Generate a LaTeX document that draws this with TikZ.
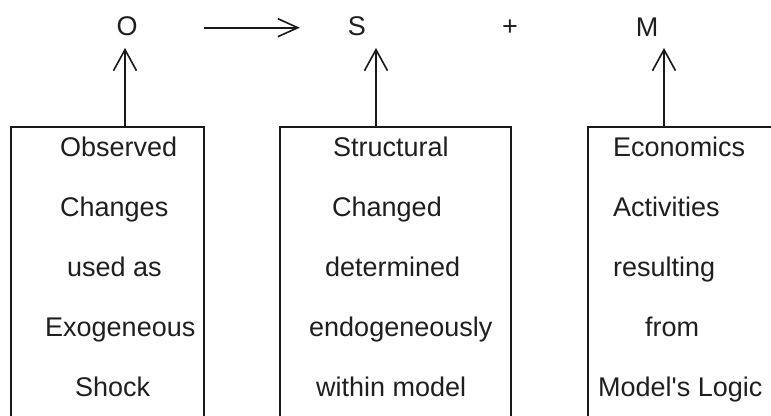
\documentclass[tikz,border=0pt]{standalone}
\usepackage{fontspec}
\setmainfont{Liberation Sans}
\usetikzlibrary{arrows.meta}
\begin{document}
\begin{tikzpicture}[x=1pt,y=-1pt,
  ink/.style={line width=1.6pt, draw=black!90},
  framebox/.style={ink, rectangle, inner sep=0pt, anchor=north west},
  label/.style={inner sep=0pt, anchor=base west, text=black!88,
    font=\fontsize{27}{32}\selectfont},
  letter/.style={inner sep=0pt, anchor=base, text=black!88,
    font=\fontsize{27}{32}\selectfont},
  uparrow/.style={ink, -{Straight Barb[length=21pt,width=23pt,line width=1.6pt]}},
  sidearrow/.style={ink, -{Straight Barb[length=20pt,width=18pt,line width=1.6pt]}}]
\clip (0,0) rectangle (771,415);
\fill[white] (0,0) rectangle (771,415);

% top row of symbols
\node[letter] (o) at (127,35) {O};
\node[letter] (s) at (357,35) {S};
\node[letter] (plus) at (510,35) {+};
\node[letter] (m) at (647,36) {M};

% tips of the vertical arrows
\coordinate (t1) at (125,48);
\coordinate (t2) at (376,48);
\coordinate (t3) at (664,48);

% the three boxes (open at the bottom edge)
\node[framebox, minimum width=193pt, minimum height=320pt] (box1) at (10,126) {};
\node[framebox, minimum width=231pt, minimum height=320pt] (box2) at (279,126) {};
\node[framebox, minimum width=230pt, minimum height=320pt] (box3) at (587,126) {};

% box texts
\node[label] (b1a) at (60,156) {Observed};
\node[label] (b1b) at (60,216) {Changes};
\node[label] (b1c) at (67,276) {used as};
\node[label] (b1d) at (45,336) {Exogeneous};
\node[label] (b1e) at (75,396) {Shock};

\node[label] (b2a) at (333,156) {Structural};
\node[label] (b2b) at (332,216) {Changed};
\node[label] (b2c) at (325,276) {determined};
\node[label] (b2d) at (309,336) {endogeneously};
\node[label] (b2e) at (316,396) {within model};

\node[label] (b3a) at (613,156) {Economics};
\node[label] (b3b) at (613,216) {Activities};
\node[label] (b3c) at (613,276) {resulting};
\node[label] (b3d) at (645,336) {from};
\node[label] (b3e) at (598,396) {Model\textquotesingle s Logic};

% connectors
\draw[sidearrow, shorten <=66pt, shorten >=48pt] ([yshift=-2pt]o.east) -- ([yshift=-2pt]s.west);
\draw[uparrow] (box1.north -| t1) -- (t1);
\draw[uparrow] (box2.north -| t2) -- (t2);
\draw[uparrow] (box3.north -| t3) -- (t3);
\end{tikzpicture}
\end{document}
